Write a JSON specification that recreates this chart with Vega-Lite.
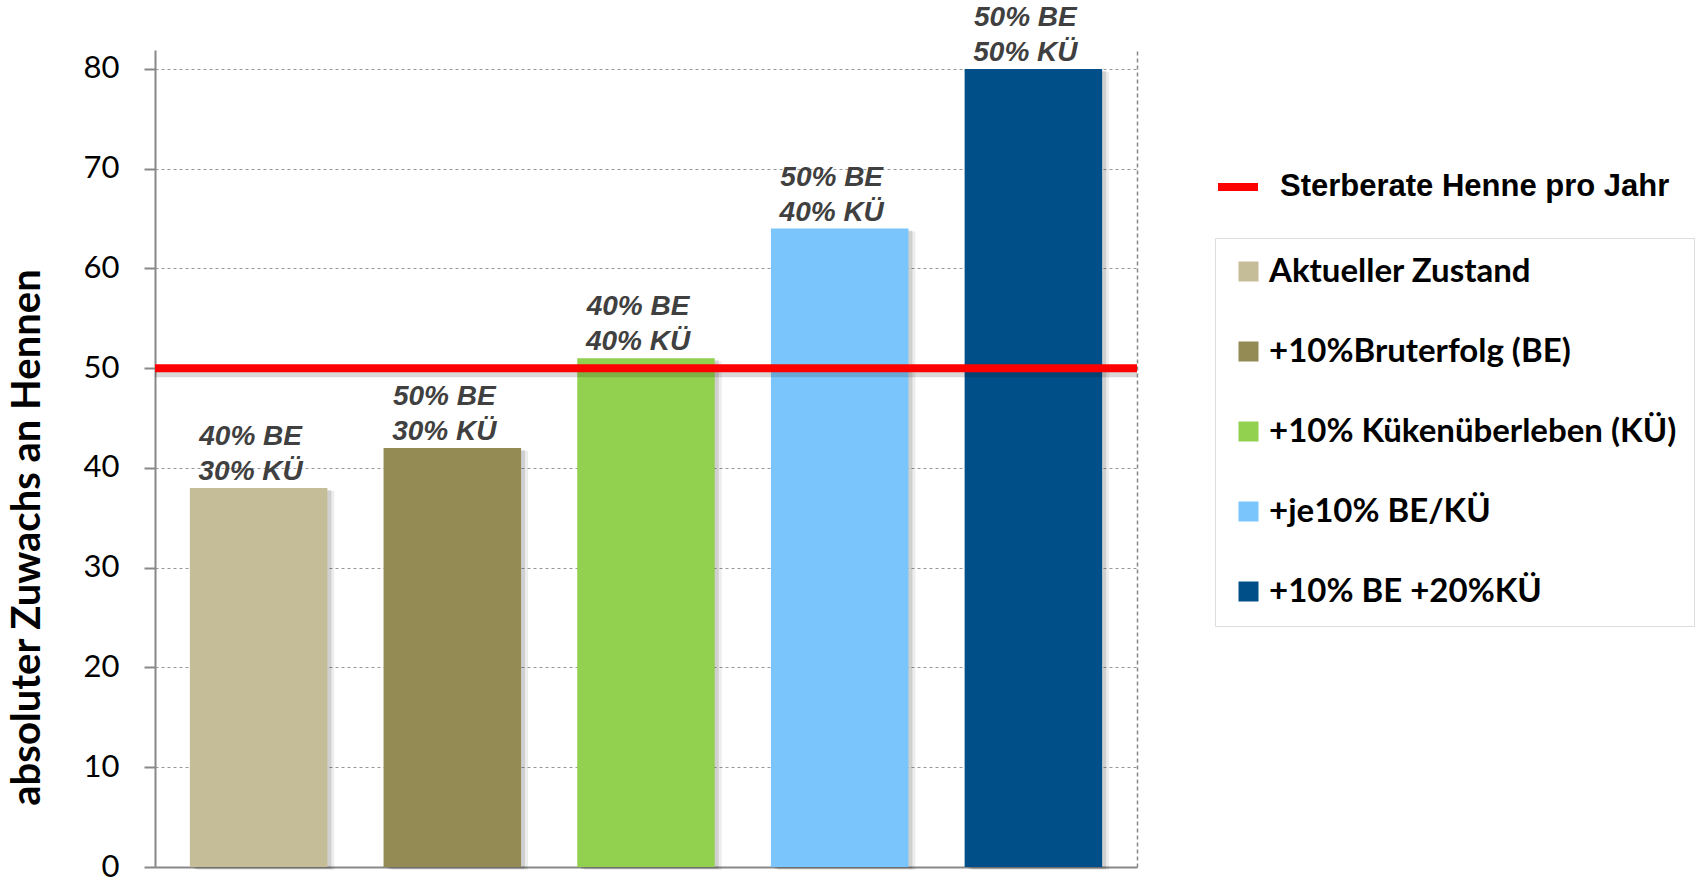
{
  "$schema": "https://vega.github.io/schema/vega-lite/v6.json",
  "autosize": {"type": "none"},
  "width": 982,
  "height": 817,
  "padding": {"left": 155, "top": 50, "right": 570, "bottom": 11},
  "background": "white",
  "config": {"view": {"stroke": null}},
  "datasets": {
    "bars": [
      {"cat": "Aktueller Zustand", "v": 38, "label": "40% BE\n30% KÜ"},
      {"cat": "+10%Bruterfolg (BE)", "v": 42, "label": "50% BE\n30% KÜ"},
      {"cat": "+10% Kükenüberleben (KÜ)", "v": 51, "label": "40% BE\n40% KÜ"},
      {"cat": "+je10% BE/KÜ", "v": 64, "label": "50% BE\n40% KÜ"},
      {"cat": "+10% BE +20%KÜ", "v": 80, "label": "50% BE\n50% KÜ"}
    ],
    "line": [
      {"name": "Sterberate Henne pro Jahr", "y": 50}
    ]
  },
  "layer": [
    {
      "data": {"name": "bars"},
      "mark": {"type": "bar", "color": "#000000", "opacity": 0.07, "xOffset": 7, "yOffset": 3},
      "encoding": {
        "x": {"field": "cat", "type": "nominal", "sort": null,
              "scale": {"paddingInner": 0.29, "paddingOuter": 0.18},
              "axis": {"labels": false, "ticks": false, "title": null, "domainColor": "#888888", "domainWidth": 2}},
        "y": {"field": "v", "type": "quantitative",
              "scale": {"domain": [0, 81.9], "nice": false, "zero": true},
              "axis": {
                "values": [0, 10, 20, 30, 40, 50, 60, 70, 80],
                "title": "absoluter Zuwachs an Hennen",
                "titleFont": "Lato", "titleFontSize": 40, "titleFontWeight": "bold", "titleColor": "black",
                "titleX": -116, "titleY": 487, "titleBaseline": "alphabetic", "titleAngle": -90,
                "labelFont": "Lato", "labelFontSize": 31, "labelColor": "black", "labelPadding": 25,
                "tickSize": 11, "tickColor": "#888888", "tickWidth": 2,
                "domainColor": "#888888", "domainWidth": 2,
                "grid": true, "gridDash": [3, 3], "gridColor": "#999999", "gridWidth": 1
              }}
      }
    },
    {
      "data": {"name": "bars"},
      "mark": {"type": "bar", "color": "#000000", "opacity": 0.12, "xOffset": 4, "yOffset": 2},
      "encoding": {
        "x": {"field": "cat", "type": "nominal", "sort": null},
        "y": {"field": "v", "type": "quantitative", "axis": null}
      }
    },
    {
      "data": {"name": "bars"},
      "mark": {"type": "bar"},
      "encoding": {
        "x": {"field": "cat", "type": "nominal", "sort": null},
        "y": {"field": "v", "type": "quantitative", "axis": null},
        "color": {
          "field": "cat", "type": "nominal", "sort": null,
          "scale": {
            "domain": ["Aktueller Zustand", "+10%Bruterfolg (BE)", "+10% Kükenüberleben (KÜ)", "+je10% BE/KÜ", "+10% BE +20%KÜ"],
            "range": ["#C4BD97", "#948A54", "#92D050", "#7AC6FC", "#004F88"]
          },
          "legend": {
            "orient": "none", "legendX": 1060, "legendY": 188,
            "title": null, "direction": "vertical",
            "symbolType": "square", "symbolSize": 400, "symbolStrokeWidth": 0,
            "labelFont": "Lato", "labelFontSize": 33, "labelFontWeight": "bold", "labelColor": "black",
            "labelOffset": 4, "rowPadding": 46, "padding": 17, "labelLimit": 600,
            "fillColor": "white", "strokeColor": "#dddddd"
          }
        }
      }
    },
    {
      "data": {"name": "bars"},
      "mark": {"type": "text", "lineBreak": "\n", "baseline": "alphabetic", "dy": -43, "dx": -8,
               "font": "Liberation Sans", "fontSize": 28, "fontWeight": "bold", "fontStyle": "italic",
               "color": "#404040", "lineHeight": 35},
      "encoding": {
        "x": {"field": "cat", "type": "nominal", "sort": null},
        "y": {"field": "v", "type": "quantitative", "axis": null},
        "text": {"field": "label", "type": "nominal"}
      }
    },
    {
      "data": {"name": "line"},
      "mark": {"type": "rule", "strokeWidth": 8, "color": "#000000", "opacity": 0.15, "yOffset": 5},
      "encoding": {
        "y": {"field": "y", "type": "quantitative", "axis": null}
      }
    },
    {
      "data": {"name": "line"},
      "mark": {"type": "rule", "strokeWidth": 8},
      "encoding": {
        "y": {
          "field": "y", "type": "quantitative",
          "axis": {"orient": "right", "labels": false, "ticks": false, "grid": false, "title": null,
                   "domainDash": [4, 3], "domainColor": "#888888", "domainWidth": 1.5}
        },
        "color": {
          "field": "name", "type": "nominal",
          "scale": {"range": ["#FF0000"]},
          "legend": {
            "orient": "none", "legendX": 1059, "legendY": 113,
            "title": null, "symbolType": "stroke", "symbolStrokeWidth": 8, "symbolSize": 1600,
            "labelFont": "Liberation Sans", "labelFontSize": 31, "labelFontWeight": "bold", "labelColor": "black",
            "labelOffset": 18, "padding": 0, "labelLimit": 600
          }
        }
      }
    }
  ],
  "resolve": {"scale": {"color": "independent"}, "axis": {"y": "independent"}}
}
